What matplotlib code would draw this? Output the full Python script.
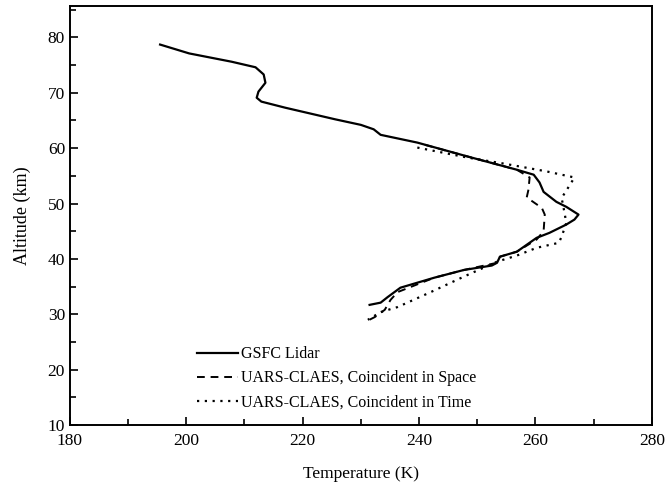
import matplotlib
matplotlib.use("Agg")
import matplotlib.pyplot as plt
from matplotlib.ticker import MultipleLocator

plt.rcParams['font.family'] = ['Liberation Serif', 'DejaVu Serif']

# GSFC Lidar profile (temperature K, altitude km)
lidar_temp = [195.5, 200.5, 207.8, 211.9, 213.3, 213.6, 212.4, 212.1, 212.9, 217.0,
              225.6, 230.0, 232.2, 233.4, 239.7, 248.3, 256.8, 259.7, 260.7, 261.4,
              263.6, 265.3, 267.4, 266.7, 265.3, 262.4, 260.2, 256.8, 253.9, 253.4,
              252.5, 247.7, 242.6, 236.8, 234.6, 233.4, 231.5]
lidar_alt = [78.7, 77.1, 75.6, 74.6, 73.3, 71.8, 70.2, 69.1, 68.4, 67.3,
             65.2, 64.2, 63.4, 62.4, 61.0, 58.5, 56.1, 55.2, 53.8, 52.1,
             50.3, 49.4, 48.0, 47.1, 46.2, 44.7, 43.8, 41.3, 40.4, 39.3,
             38.8, 38.0, 36.6, 34.8, 33.1, 32.1, 31.7]

# UARS-CLAES coincident in space
space_temp = [241.0, 248.3, 256.8, 259.0, 258.8, 258.5, 261.1, 261.6, 261.4, 260.2,
              256.8, 253.9, 253.4, 247.7, 242.6, 236.3, 235.1, 234.1, 232.4, 230.7]
space_alt = [60.6, 58.5, 56.1, 54.7, 52.5, 51.1, 49.2, 48.0, 45.0, 43.5,
             41.3, 40.4, 39.3, 38.0, 36.6, 34.0, 32.6, 30.8, 29.5, 28.6]

# UARS-CLAES coincident in time
time_temp = [239.7, 248.3, 254.6, 261.9, 266.7, 265.7, 264.5, 265.0, 265.3, 264.5,
             264.0, 260.2, 256.8, 253.4, 247.7, 242.0, 236.3, 233.4, 231.2]
time_alt = [60.1, 58.3, 57.2, 55.8, 54.7, 53.0, 51.0, 48.3, 46.5, 44.0,
            42.9, 42.0, 40.6, 39.5, 36.8, 34.0, 31.3, 30.4, 29.0]

fig = plt.figure(figsize=(6.72, 4.83), dpi=100)
ax = fig.add_axes([0.104, 0.120, 0.866, 0.868])

ax.plot(lidar_temp, lidar_alt, color='black', lw=1.6, ls='-', label='GSFC Lidar')
ax.plot(space_temp, space_alt, color='black', lw=1.4, ls=(0, (4, 3)),
        label='UARS-CLAES, Coincident in Space')
ax.plot(time_temp, time_alt, color='black', lw=1.6, ls=(0, (1, 2.5)),
        label='UARS-CLAES, Coincident in Time')

ax.set_xlim(180, 280)
ax.set_ylim(10, 85.7)
ax.xaxis.set_major_locator(MultipleLocator(20))
ax.xaxis.set_minor_locator(MultipleLocator(10))
ax.yaxis.set_major_locator(MultipleLocator(10))
ax.yaxis.set_minor_locator(MultipleLocator(5))
ax.tick_params(which='both', direction='in', top=False, right=False,
               labelsize=12.5, width=1.2)
ax.tick_params(which='major', length=6)
ax.tick_params(which='minor', length=4)
ax.tick_params(axis='x', pad=6)
for sp in ax.spines.values():
    sp.set_linewidth(1.4)

ax.set_xlabel('Temperature (K)', fontsize=12.5, labelpad=12)
ax.set_ylabel('Altitude (km)', fontsize=13, labelpad=12)

ax.legend(loc='lower left', bbox_to_anchor=(0.218, 0.035), frameon=False,
          fontsize=11.5, borderpad=0, borderaxespad=0, handlelength=2.6,
          handletextpad=0.2, labelspacing=0.5)

fig.savefig('out.png', dpi=100)
